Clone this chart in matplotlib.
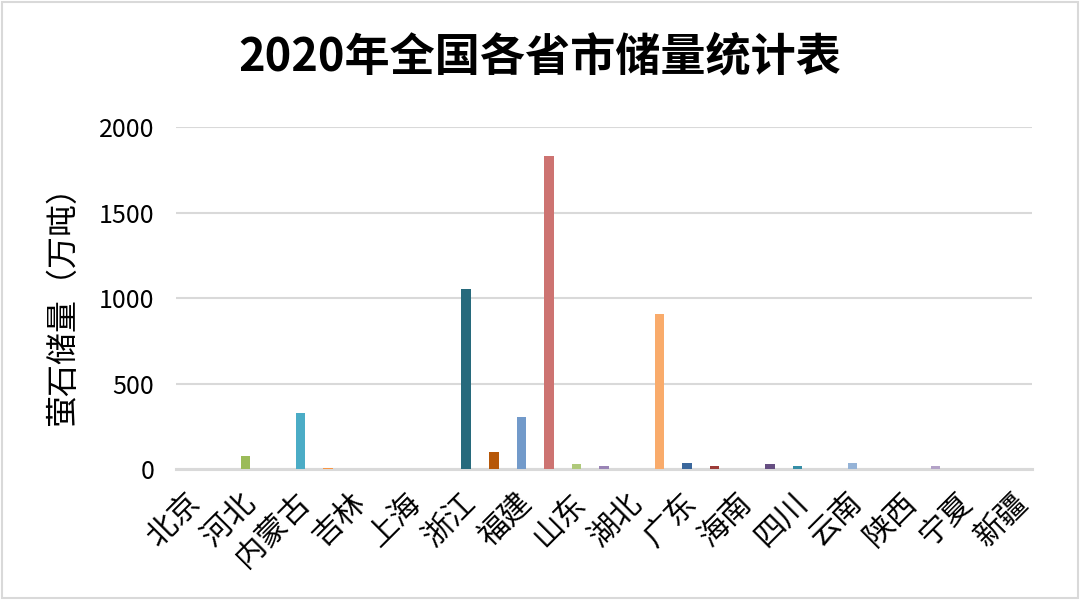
import matplotlib
import matplotlib.pyplot as plt
import matplotlib.transforms as mtransforms
from matplotlib.patches import Rectangle

matplotlib.use('Agg')

plt.rcParams['font.family'] = ['Noto Sans CJK SC', 'DejaVu Sans']

# 31 provinces, only every other one gets a label on the axis
provinces = ['北京', '天津', '河北', '山西', '内蒙古', '辽宁', '吉林', '黑龙江',
             '上海', '江苏', '浙江', '安徽', '福建', '江西', '山东', '河南',
             '湖北', '湖南', '广东', '广西', '海南', '重庆', '四川', '贵州',
             '云南', '西藏', '陕西', '甘肃', '宁夏', '青海', '新疆']
reserves = [0, 0, 78, 0, 328, 8, 0, 0,
            0, 0, 1055, 100, 305, 1832, 31, 21,
            0, 906, 35, 19, 0, 31, 21, 0,
            35, 0, 0, 19, 0, 0, 0]
# excel "vary colors by point" palette
bar_colors = ['#4F81BD', '#C0504D', '#9BBB59', '#8064A2', '#4BACC6', '#F79646',
              '#2C4D75', '#772C2A', '#5F7530', '#4D3B62', '#276A7C', '#B65708',
              '#729ACA', '#CD7371', '#AFC97A', '#9983B5', '#6FBDD1', '#F9AB6B',
              '#3A679C', '#9D3B38', '#7E9C40', '#664E82', '#358EA6', '#DF7A1C',
              '#95B3D7', '#D99694', '#C3D69B', '#B3A2C7', '#93CDDD', '#FAC090',
              '#254061']
y_ticks = [0, 500, 1000, 1500, 2000]

fig = plt.figure(figsize=(10.8, 6), dpi=100)
ax = fig.add_axes([0.1634, 0.218, 0.7922, 0.570])

x = list(range(len(provinces)))
ax.bar(x, reserves, width=0.35, color=bar_colors, linewidth=0, zorder=3)

ax.set_xlim(-0.5, len(provinces) - 0.5)
ax.set_ylim(0, 2000)
ax.set_yticks(y_ticks)
ax.set_yticklabels([str(v) for v in y_ticks], fontsize=18)
ax.set_xticks(x[::2])
ax.tick_params(axis='both', length=0)
ax.tick_params(axis='x', pad=13)
ax.tick_params(axis='y', pad=16)
ax.set_xticklabels(provinces[::2], fontsize=22, rotation=45, ha='right',
                   rotation_mode='anchor')
# nudge the slanted labels a little to the left, like excel places them
shift = mtransforms.ScaledTranslation(-0.06, 0, fig.dpi_scale_trans)
for lbl in ax.get_xticklabels():
    lbl.set_transform(lbl.get_transform() + shift)

ax.grid(axis='y', color='#D9D9D9', linewidth=1.5, zorder=0)
for side in ['top', 'right', 'left']:
    ax.spines[side].set_visible(False)
ax.spines['bottom'].set_color('#D9D9D9')
ax.spines['bottom'].set_linewidth(2.2)
ax.spines['bottom'].set_zorder(2)

ax.set_ylabel('萤石储量（万吨）', fontsize=23, labelpad=14)
fig.text(0.5, 0.905, '2020年全国各省市储量统计表', fontsize=32.5, fontweight='bold',
         ha='center', va='center')

# light border around the chart area
fig.patches.append(Rectangle((0.002, 0.004), 0.996, 0.993, transform=fig.transFigure,
                             fill=False, edgecolor='#D9D9D9', linewidth=1.5))

fig.savefig('out.png', dpi=100, facecolor='white')
plt.close(fig)
